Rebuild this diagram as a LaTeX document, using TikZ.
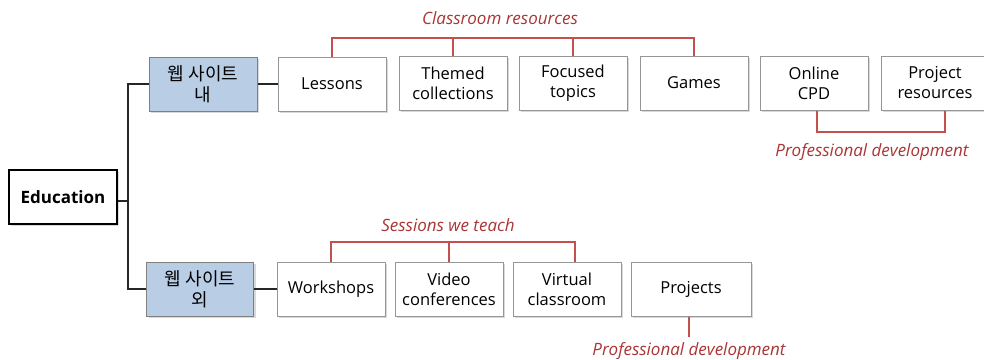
\documentclass[tikz,border=0pt]{standalone}
\usepackage{fontspec}
\setmainfont{Open Sans}
\newfontfamily\kr{Noto Sans CJK KR}
\usetikzlibrary{shadows}
\definecolor{boxline}{RGB}{150,150,150}
\definecolor{sitefill}{RGB}{185,205,229}
\definecolor{groupline}{RGB}{196,80,78}
\definecolor{grouptext}{RGB}{170,52,52}
\tikzset{
  item/.style={draw=boxline, fill=white, line width=1pt, align=center,
    minimum width=108pt, minimum height=54pt, inner sep=2pt,
    font=\fontsize{16.5}{20}\selectfont,
    drop shadow={opacity=0.3, shadow xshift=2pt, shadow yshift=-2pt}},
  site/.style={item, fill=sitefill, draw=gray, font=\kr\fontsize{18}{21}\selectfont},
  root/.style={item, draw=black, line width=1.8pt, font=\bfseries\fontsize{17}{20}\selectfont},
  link/.style={line width=1.2pt, black!85},
  group/.style={line width=1.2pt, groupline},
  grouplabel/.style={text=grouptext, font=\itshape\fontsize{17}{20}\selectfont, inner sep=0pt}
}
\begin{document}
\begin{tikzpicture}[x=1pt,y=-1pt]
        \useasboundingbox (0,0) rectangle (984,359);
        \clip (0,0) rectangle (984,359);

        \node[root] (edu) at (63,197) {Education};
        \node[site] (inside) at (203,84) {웹 사이트\\내};
        \node[site, minimum width=107pt] (outside) at (200,289) {웹 사이트\\외};

        \node[item] (lessons) at (332,84) {Lessons};
        \node[item] (themed) at (453,83) {Themed\\collections};
        \node[item] (focused) at (573,83) {Focused\\topics};
        \node[item] (games) at (694,83) {Games};
        \node[item] (cpd) at (814,83) {Online\\CPD};
        \node[item] (projres) at (935,83) {Project\\resources};

        \node[item] (workshops) at (331,289) {Workshops};
        \node[item] (video) at (449,289) {Video\\conferences};
        \node[item] (virtual) at (567,289) {Virtual\\classroom};
        \node[item, minimum width=120pt] (projects) at (691,289) {Projects};

        \coordinate (trunk) at (128,201);
        \draw[link] (edu.east |- trunk) -- (trunk);
        \draw[link] (inside.west) -| (trunk) |- (outside.west);
        \draw[link] (inside.east) -- (inside.east -| lessons.west);
        \draw[link] (outside.east) -- (outside.east -| workshops.west);

        \coordinate (crbar) at (500,38);
        \draw[group] (lessons.north) |- (crbar) -| (games.north);
        \draw[group] (themed.north) -- (themed.north |- crbar);
        \draw[group] (focused.north) -- (focused.north |- crbar);
        \node[grouplabel] (crlabel) at (500,18) {Classroom resources};

        \coordinate (pdbar) at (880,132);
        \draw[group] ([xshift=3pt]cpd.south) |- (pdbar) -| ([xshift=10pt]projres.south);
        \node[grouplabel] (pdlabel) at (872,152) {Professional development};

        \coordinate (swbar) at (450,242);
        \draw[group] (workshops.north) |- (swbar) -| ([xshift=8pt]virtual.north);
        \draw[group] (video.north) -- (video.north |- swbar);
        \node[grouplabel] (swlabel) at (448,225) {Sessions we teach};

        \coordinate (pjend) at (689,337);
        \draw[group] (projects.south -| pjend) -- (pjend);
        \node[grouplabel] (pjlabel) at (689,351) {Professional development};
    \end{tikzpicture}
\end{document}
